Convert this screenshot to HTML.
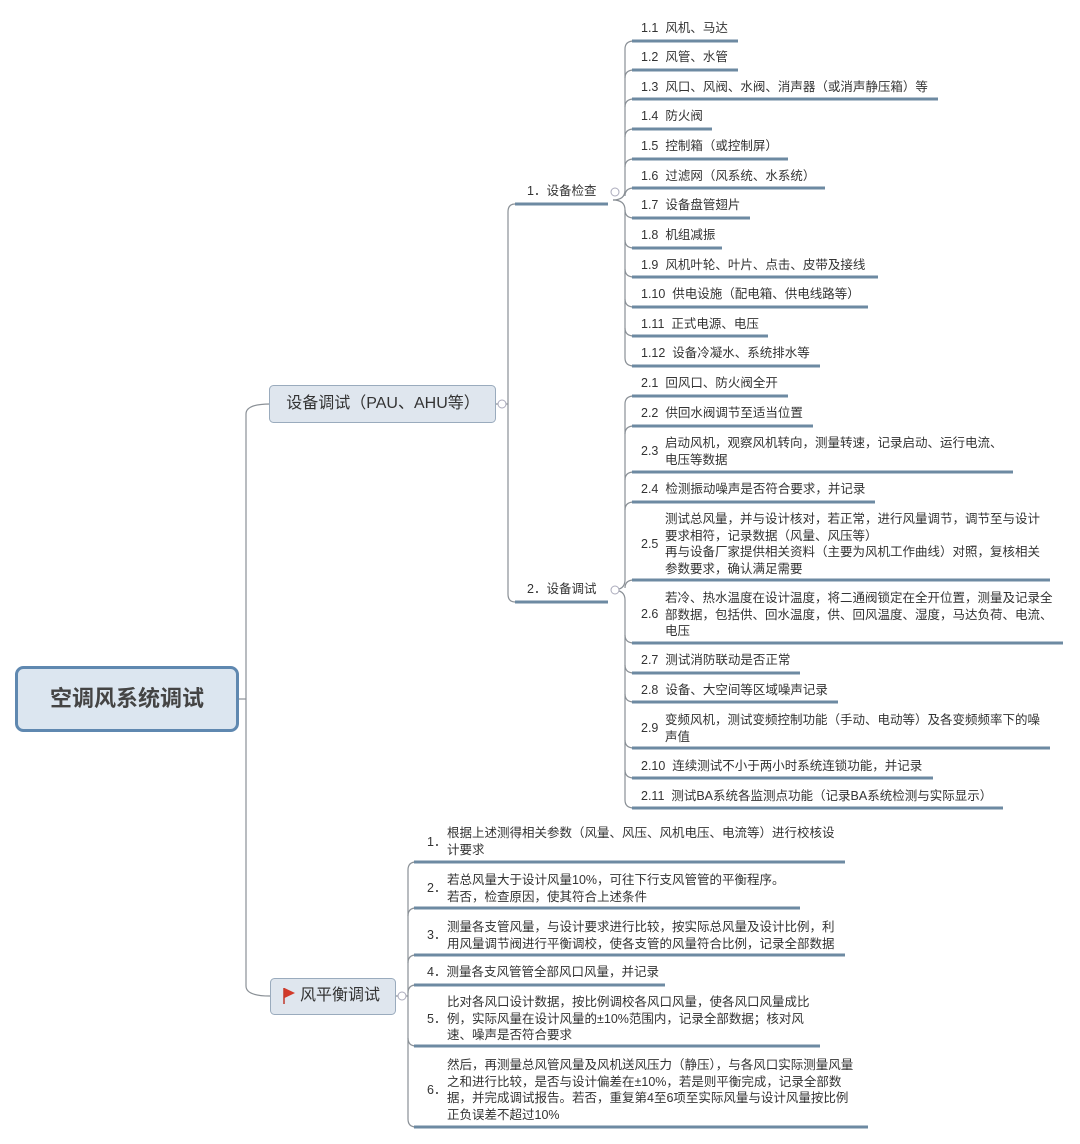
<!DOCTYPE html>
<html><head><meta charset="utf-8"><style>
html,body{margin:0;padding:0;background:#fff;}
body{width:1080px;height:1144px;position:relative;overflow:hidden;font-family:"Liberation Sans","Noto Sans CJK SC",sans-serif;color:#333;}
.t{position:absolute;font-size:12.5px;line-height:16.6px;white-space:nowrap;}
.n{position:absolute;font-size:12.5px;line-height:16.6px;}
svg{position:absolute;left:0;top:0;}
</style></head><body>
<svg width="1080" height="1144" viewBox="0 0 1080 1144">
<g fill="none" stroke="#8a9096" stroke-width="1.2">
<!-- root connectors -->
<path d="M238 699 L246 699"/>
<path d="M270 404 Q246 404 246 414 L246 986 Q246 996 270 996"/>
<!-- box1 to nodes -->
<path d="M495 404 L508 404"/>
<path d="M515 204 Q508 204 508 212 L508 594 Q508 602 515 602"/>
<!-- node1 children -->
<g id="c1">
<path d="M613 200 Q625 200 625 190 L625 49 Q625 41 634 41"/>
<path d="M613 200 Q625 200 625 210 L625 358 Q625 366 634 366"/>
<path d="M625 78 Q625 70 634 70"/><path d="M625 107 Q625 99 634 99"/><path d="M625 137 Q625 129 634 129"/>
<path d="M625 167 Q625 159 634 159"/><path d="M625 196 Q625 188 634 188"/><path d="M625 210 Q625 218 634 218"/>
<path d="M625 240 Q625 248 634 248"/><path d="M625 269 Q625 277 634 277"/><path d="M625 299 Q625 307 634 307"/>
<path d="M625 328 Q625 336 634 336"/>
</g>
<g>
<path d="M613 590 Q625 590 625 580 L625 404 Q625 396 634 396"/>
<path d="M613 590 Q625 590 625 600 L625 800 Q625 808 634 808"/>
<path d="M625 434 Q625 426 634 426"/><path d="M625 480 Q625 472 634 472"/><path d="M625 510 Q625 502 634 502"/>
<path d="M625 588 Q625 580 634 580"/><path d="M625 635 Q625 643 634 643"/><path d="M625 665 Q625 673 634 673"/>
<path d="M625 694 Q625 702 634 702"/><path d="M625 740 Q625 748 634 748"/><path d="M625 770 Q625 778 634 778"/>
</g>
<!-- 风平衡 children -->
<path d="M395 996 L408 996"/>
<path d="M408 996 L408 870 Q408 862 416 862"/>
<path d="M408 996 L408 1119 Q408 1127 416 1127"/>
<path d="M408 916 Q408 908 416 908"/><path d="M408 963 Q408 955 416 955"/><path d="M408 993 Q408 985 416 985"/>
<path d="M408 1038 Q408 1046 416 1046"/>
</g>
<g stroke="#6d8aa2" stroke-width="3" fill="none">
<line x1="515" y1="204" x2="608" y2="204"/>
<line x1="515" y1="602" x2="608" y2="602"/>
<line x1="632" y1="41" x2="738" y2="41"/><line x1="632" y1="70" x2="738" y2="70"/>
<line x1="632" y1="99" x2="938" y2="99"/><line x1="632" y1="129" x2="712" y2="129"/>
<line x1="632" y1="159" x2="788" y2="159"/><line x1="632" y1="188" x2="825" y2="188"/>
<line x1="632" y1="218" x2="750" y2="218"/><line x1="632" y1="248" x2="722" y2="248"/>
<line x1="632" y1="277" x2="878" y2="277"/><line x1="632" y1="307" x2="868" y2="307"/>
<line x1="632" y1="336" x2="768" y2="336"/><line x1="632" y1="366" x2="820" y2="366"/>
<line x1="632" y1="396" x2="788" y2="396"/><line x1="632" y1="426" x2="813" y2="426"/>
<line x1="632" y1="472" x2="1013" y2="472"/><line x1="632" y1="502" x2="875" y2="502"/>
<line x1="632" y1="580" x2="1050" y2="580"/><line x1="632" y1="643" x2="1063" y2="643"/>
<line x1="632" y1="673" x2="800" y2="673"/><line x1="632" y1="702" x2="838" y2="702"/>
<line x1="632" y1="748" x2="1050" y2="748"/><line x1="632" y1="778" x2="933" y2="778"/>
<line x1="632" y1="808" x2="1003" y2="808"/>
<line x1="414" y1="862" x2="845" y2="862"/><line x1="414" y1="908" x2="800" y2="908"/>
<line x1="414" y1="955" x2="845" y2="955"/><line x1="414" y1="985" x2="665" y2="985"/>
<line x1="414" y1="1046" x2="820" y2="1046"/><line x1="414" y1="1127" x2="868" y2="1127"/>
</g>
<g fill="#fff" stroke="#aab" stroke-width="1">
<circle cx="615" cy="192" r="4"/><circle cx="615" cy="590" r="4"/>
<circle cx="502" cy="404" r="4"/><circle cx="402" cy="996" r="4"/>
</g>
<!-- boxes -->
<rect x="16.5" y="667.5" width="221" height="63" rx="7" fill="#dce6f0" stroke="#5f88b0" stroke-width="3"/>
<rect x="269.5" y="385.5" width="226" height="37" rx="4" fill="#dfe6ee" stroke="#9aabbd" stroke-width="1"/>
<rect x="270.5" y="978.5" width="125" height="36" rx="4" fill="#dfe6ee" stroke="#9aabbd" stroke-width="1"/>
<path d="M284 988 L284 1004" stroke="#c0392b" stroke-width="1.5"/>
<path d="M284.5 988 L295 993 L284.5 998 Z" fill="#d23a2a"/>
</svg>

<div class="t" style="left:16px;top:683px;width:222px;text-align:center;font-size:22px;line-height:32px;font-weight:bold;color:#444;">空调风系统调试</div>
<div class="t" style="left:270px;top:393px;width:226px;text-align:center;font-size:16px;line-height:22px;">设备调试（PAU、AHU等）</div>
<div class="t" style="left:300px;top:985px;font-size:16px;line-height:22px;">风平衡调试</div>
<div class="t" style="left:527px;top:183px;">1．设备检查</div>
<div class="t" style="left:527px;top:581px;">2．设备调试</div>

<div class="t" style="left:641px;top:20px;">1.1&nbsp; 风机、马达</div>
<div class="t" style="left:641px;top:49px;">1.2&nbsp; 风管、水管</div>
<div class="t" style="left:641px;top:79px;">1.3&nbsp; 风口、风阀、水阀、消声器（或消声静压箱）等</div>
<div class="t" style="left:641px;top:108px;">1.4&nbsp; 防火阀</div>
<div class="t" style="left:641px;top:138px;">1.5&nbsp; 控制箱（或控制屏）</div>
<div class="t" style="left:641px;top:168px;">1.6&nbsp; 过滤网（风系统、水系统）</div>
<div class="t" style="left:641px;top:197px;">1.7&nbsp; 设备盘管翅片</div>
<div class="t" style="left:641px;top:227px;">1.8&nbsp; 机组减振</div>
<div class="t" style="left:641px;top:257px;">1.9&nbsp; 风机叶轮、叶片、点击、皮带及接线</div>
<div class="t" style="left:641px;top:286px;">1.10&nbsp; 供电设施（配电箱、供电线路等）</div>
<div class="t" style="left:641px;top:316px;">1.11&nbsp; 正式电源、电压</div>
<div class="t" style="left:641px;top:345px;">1.12&nbsp; 设备冷凝水、系统排水等</div>

<div class="t" style="left:641px;top:375px;">2.1&nbsp; 回风口、防火阀全开</div>
<div class="t" style="left:641px;top:405px;">2.2&nbsp; 供回水阀调节至适当位置</div>
<div class="t" style="left:641px;top:443px;">2.3</div>
<div class="n" style="left:665px;top:435px;">启动风机，观察风机转向，测量转速，记录启动、运行电流、<br>电压等数据</div>
<div class="t" style="left:641px;top:481px;">2.4&nbsp; 检测振动噪声是否符合要求，并记录</div>
<div class="t" style="left:641px;top:536px;">2.5</div>
<div class="n" style="left:665px;top:511px;">测试总风量，并与设计核对，若正常，进行风量调节，调节至与设计<br>要求相符，记录数据（风量、风压等）<br>再与设备厂家提供相关资料（主要为风机工作曲线）对照，复核相关<br>参数要求，确认满足需要</div>
<div class="t" style="left:641px;top:606px;">2.6</div>
<div class="n" style="left:665px;top:590px;">若冷、热水温度在设计温度，将二通阀锁定在全开位置，测量及记录全<br>部数据，包括供、回水温度，供、回风温度、湿度，马达负荷、电流、<br>电压</div>
<div class="t" style="left:641px;top:652px;">2.7&nbsp; 测试消防联动是否正常</div>
<div class="t" style="left:641px;top:682px;">2.8&nbsp; 设备、大空间等区域噪声记录</div>
<div class="t" style="left:641px;top:720px;">2.9</div>
<div class="n" style="left:665px;top:712px;">变频风机，测试变频控制功能（手动、电动等）及各变频频率下的噪<br>声值</div>
<div class="t" style="left:641px;top:758px;">2.10&nbsp; 连续测试不小于两小时系统连锁功能，并记录</div>
<div class="t" style="left:641px;top:788px;">2.11&nbsp; 测试BA系统各监测点功能（记录BA系统检测与实际显示）</div>

<div class="t" style="left:427px;top:834px;">1．</div>
<div class="n" style="left:447px;top:825px;">根据上述测得相关参数（风量、风压、风机电压、电流等）进行校核设<br>计要求</div>
<div class="t" style="left:427px;top:880px;">2．</div>
<div class="n" style="left:447px;top:872px;">若总风量大于设计风量10%，可往下行支风管管的平衡程序。<br>若否，检查原因，使其符合上述条件</div>
<div class="t" style="left:427px;top:927px;">3．</div>
<div class="n" style="left:447px;top:919px;">测量各支管风量，与设计要求进行比较，按实际总风量及设计比例，利<br>用风量调节阀进行平衡调校，使各支管的风量符合比例，记录全部数据</div>
<div class="t" style="left:427px;top:964px;">4．测量各支风管管全部风口风量，并记录</div>
<div class="t" style="left:427px;top:1011px;">5．</div>
<div class="n" style="left:447px;top:994px;">比对各风口设计数据，按比例调校各风口风量，使各风口风量成比<br>例，实际风量在设计风量的±10%范围内，记录全部数据；核对风<br>速、噪声是否符合要求</div>
<div class="t" style="left:427px;top:1082px;">6．</div>
<div class="n" style="left:447px;top:1057px;">然后，再测量总风管风量及风机送风压力（静压），与各风口实际测量风量<br>之和进行比较，是否与设计偏差在±10%，若是则平衡完成，记录全部数<br>据，并完成调试报告。若否，重复第4至6项至实际风量与设计风量按比例<br>正负误差不超过10%</div>
</body></html>
